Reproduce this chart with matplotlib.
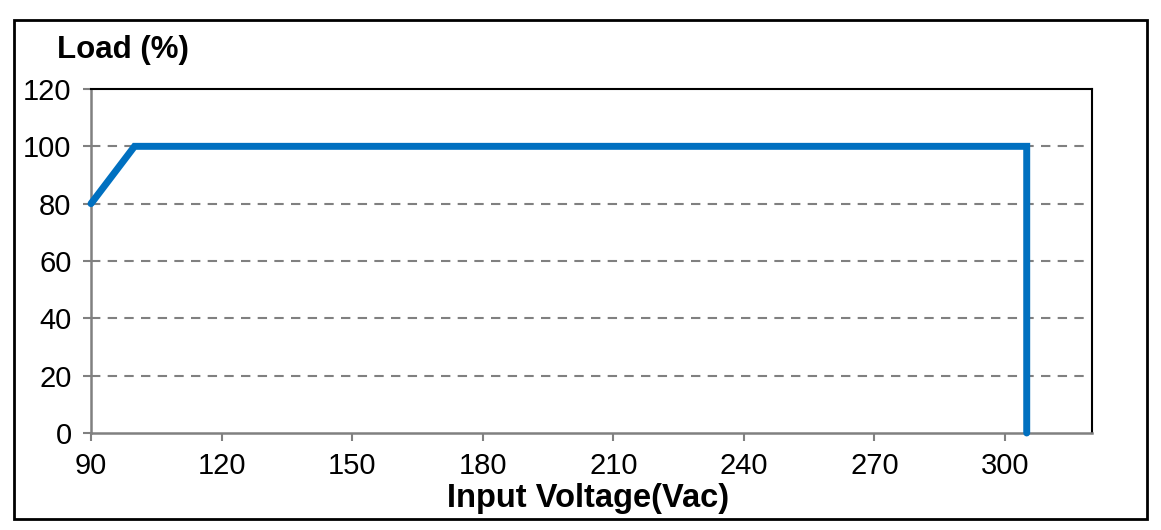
import matplotlib.pyplot as plt
from matplotlib.patches import Rectangle

plt.rcParams['font.family'] = ['Liberation Sans', 'DejaVu Sans']

# derating curve: load vs input voltage
voltage = [90, 100, 305, 305]
load = [80, 100, 100, 0]
xticks = [90, 120, 150, 180, 210, 240, 270, 300]
yticks = [0, 20, 40, 60, 80, 100, 120]

fig = plt.figure(figsize=(11.61, 5.30), dpi=100)
ax = fig.add_axes([91/1161, 1 - 433/530, (1092-91)/1161, (433-89)/530])

for y in yticks[1:-1]:
    ax.axhline(y, color='#808080', lw=1.5, ls=(0, (4.5, 3.5)), zorder=1)

ax.plot(voltage, load, color='#0070C0', lw=5, solid_capstyle='round',
        solid_joinstyle='miter', zorder=3, clip_on=False)

ax.set_xlim(90, 320)
ax.set_ylim(0, 120)
ax.set_xticks(xticks)
ax.set_yticks(yticks)
ax.tick_params(direction='out', length=6, width=1.5, color='#808080',
               labelsize=21, pad=8)

ax.spines['left'].set_color('#808080')
ax.spines['bottom'].set_color('#808080')
ax.spines['left'].set_linewidth(1.8)
ax.spines['bottom'].set_linewidth(1.8)
ax.spines['top'].set_color('black')
ax.spines['right'].set_color('black')
ax.spines['top'].set_linewidth(1.5)
ax.spines['right'].set_linewidth(1.5)

fig.text(57/1161, 1 - 50/530, 'Load (%)', fontsize=22.5, fontweight='bold',
         ha='left', va='center')
fig.text(588/1161, 1 - 498/530, 'Input Voltage(Vac)', fontsize=23.5,
         fontweight='bold', ha='center', va='center')

# outer frame
fig.patches.append(Rectangle((14/1161, 1 - 519/530), (1147-14)/1161,
                             (519-20)/530, transform=fig.transFigure,
                             fill=False, edgecolor='black', lw=2))

fig.savefig('out.png', dpi=100)
